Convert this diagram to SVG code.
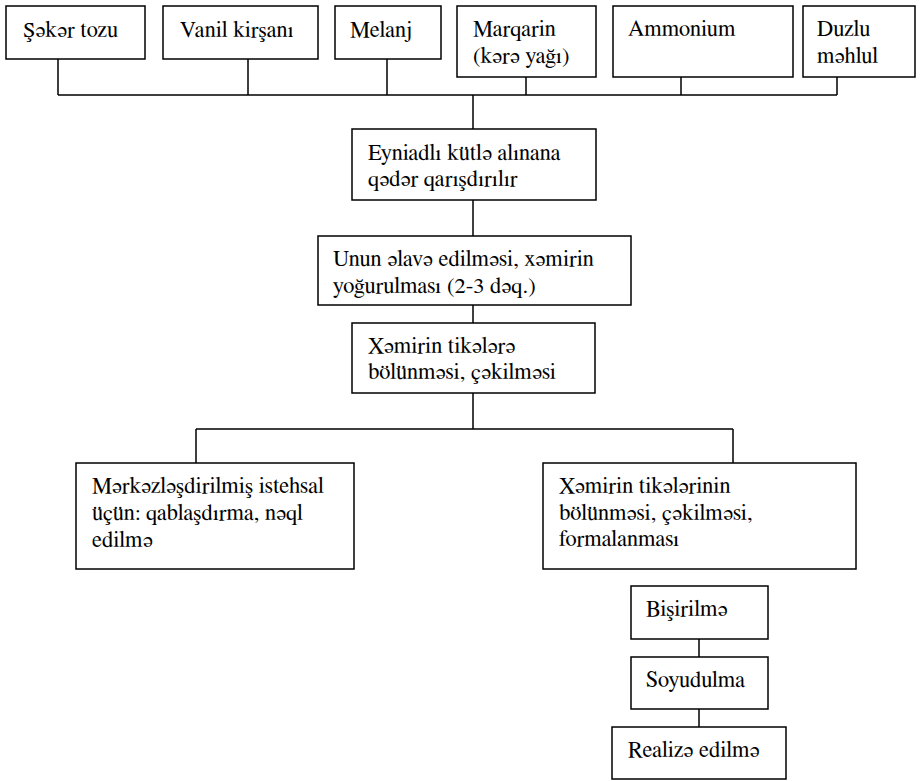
<svg xmlns="http://www.w3.org/2000/svg" width="920" height="781" viewBox="0 0 920 781">
  <style>
    .box { fill: #ffffff; stroke: #000000; stroke-width: 1.5; }
    .link { fill: none; stroke: #000000; stroke-width: 1.5; }
    .lbl { font-family: 'FreeSerif', 'Nimbus Roman', 'Nimbus Roman No9 L', 'Noto Serif', 'Times', 'Liberation Serif', serif; font-size: 22.5px; fill: #000000; }
  </style>
  <rect width="920" height="781" fill="#ffffff"/>

  <!-- connectors -->
  <g id="connectors">
    <path class="link" d="M58 59 V95 M248 59 V95 M387 59 V95 M526 77 V95 M681 77 V95 M837 77 V95 M58 95 H837"/>
    <path class="link" d="M473 95 V129"/>
    <path class="link" d="M473 200 V236"/>
    <path class="link" d="M473 305 V323"/>
    <path class="link" d="M473 393 V429 M196 429 H733 M196 429 V463 M733 429 V463"/>
    <path class="link" d="M699 639 V657"/>
    <path class="link" d="M699 709 V727"/>
  </g>

  <g class="lbl">
  <!-- ingredients -->
  <g id="sugar">
    <rect class="box" x="6" y="6" width="139" height="53"/>
    <text x="23" y="37">Şəkər tozu</text>
  </g>
  <g id="vanilla">
    <rect class="box" x="163" y="6" width="155" height="53"/>
    <text x="180" y="37">Vanil kirşanı</text>
  </g>
  <g id="melange">
    <rect class="box" x="335" y="6" width="106" height="53"/>
    <text x="350" y="37">Melanj</text>
  </g>
  <g id="margarine">
    <rect class="box" x="457" y="6" width="139" height="71"/>
    <text x="473" y="36">Marqarin</text>
    <text x="473" y="63">(kərə yağı)</text>
  </g>
  <g id="ammonium">
    <rect class="box" x="613" y="6" width="180" height="71"/>
    <text x="628" y="36">Ammonium</text>
  </g>
  <g id="brine">
    <rect class="box" x="803" y="6" width="112" height="71"/>
    <text x="817" y="36">Duzlu</text>
    <text x="817" y="63">məhlul</text>
  </g>

  <!-- main process -->
  <g id="mixing">
    <rect class="box" x="352" y="129" width="244" height="71"/>
    <text x="368" y="160">Eyniadlı kütlə alınana</text>
    <text x="368" y="186">qədər qarışdırılır</text>
  </g>
  <g id="kneading">
    <rect class="box" x="318" y="236" width="313" height="69"/>
    <text x="333" y="266">Unun əlavə edilməsi, xəmirin</text>
    <text x="333" y="293">yoğurulması (2-3 dəq.)</text>
  </g>
  <g id="dividing">
    <rect class="box" x="352" y="323" width="243" height="70"/>
    <text x="368" y="353">Xəmirin tikələrə</text>
    <text x="368" y="379">bölünməsi, çəkilməsi</text>
  </g>

  <!-- branches -->
  <g id="centralized">
    <rect class="box" x="76" y="463" width="278" height="106"/>
    <text x="92" y="493">Mərkəzləşdirilmiş istehsal</text>
    <text x="92" y="520">üçün: qablaşdırma, nəql</text>
    <text x="92" y="547">edilmə</text>
  </g>
  <g id="shaping">
    <rect class="box" x="543" y="463" width="313" height="106"/>
    <text x="559" y="493">Xəmirin tikələrinin</text>
    <text x="559" y="520">bölünməsi, çəkilməsi,</text>
    <text x="559" y="546">formalanması</text>
  </g>
  <g id="baking">
    <rect class="box" x="631" y="586" width="137" height="53"/>
    <text x="646" y="616">Bişirilmə</text>
  </g>
  <g id="cooling">
    <rect class="box" x="631" y="657" width="137" height="52"/>
    <text x="646" y="687">Soyudulma</text>
  </g>
  <g id="sale">
    <rect class="box" x="612" y="727" width="174" height="52"/>
    <text x="628" y="757">Realizə edilmə</text>
  </g>
  </g>
</svg>
